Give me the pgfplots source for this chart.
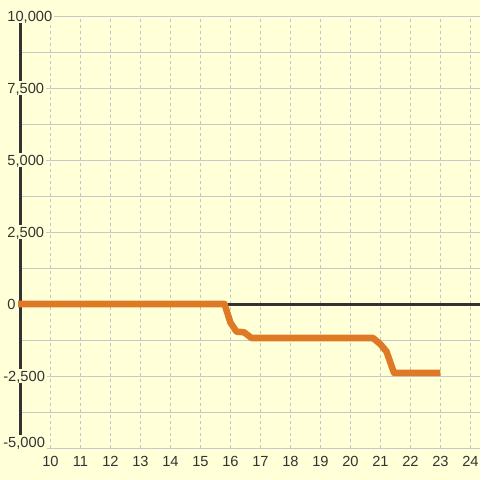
\documentclass[border=0pt]{standalone}
\usepackage{fontspec}
\setmainfont{Liberation Sans}
\usepackage{pgfplots}
\pgfplotsset{compat=1.18}
\definecolor{bgcol}{HTML}{FFFFD8}
\definecolor{gridcol}{HTML}{C8C8C8}
\definecolor{dotcol}{HTML}{C4C4C4}
\definecolor{axcol}{HTML}{333333}
\definecolor{linecol}{HTML}{DE7A25}
\begin{document}
\begin{tikzpicture}
\fill[bgcol] (-15.375pt,-24pt) rectangle (344.625pt,336pt);
\begin{axis}[
  at={(0,0)}, anchor=south west,
  scale only axis, width=344.625pt, height=324pt,
  xmin=9, xmax=24.3167, ymin=-5000, ymax=10000,
  clip=false,
  scaled ticks=false,
  axis line style={draw=none},
  major tick length=0pt,
  xtick={10,...,24},
  ytick={-5000,-3750,...,10000},
  yticklabels={},
  xmajorgrids, ymajorgrids,
  major x grid style={dotcol, line width=0.75pt, dash pattern=on 2.25pt off 2.25pt},
  major y grid style={gridcol, line width=0.75pt},
  /pgf/number format/assume math mode=true,
  xticklabel style={font=\fontsize{11}{13}\selectfont, text=axcol, anchor=center,
    text height=7.8pt, text depth=0pt, yshift=-9.75pt},
]
\draw[axcol, line width=2.25pt] (axis cs:9,-5000) -- (axis cs:9,10000);
\draw[axcol, line width=2.25pt] (axis cs:9,0) -- (axis cs:24.3167,0);
\addplot[linecol, line width=4.9pt, line join=round] coordinates {
  (8.92,0) (10,0) (11,0) (12,0) (13,0) (14,0) (15,0) (15.8,0)
  (16.0,-650) (16.2,-960) (16.45,-980) (16.7,-1180)
  (17,-1180) (18,-1180) (19,-1180) (20,-1180) (20.75,-1180)
  (21.0,-1400) (21.2,-1650) (21.45,-2390) (22,-2390) (23.0,-2390)
};
\tikzset{ylab/.style={anchor=west, fill=bgcol, text=axcol, font=\fontsize{11}{13}\selectfont,
  text height=7.8pt, text depth=0pt, inner xsep=1.2pt, inner ysep=1.4pt}}
\node[ylab, xshift=-11.25pt] at (axis cs:9,10000) {10,000};
\node[ylab, xshift=-11.25pt] at (axis cs:9,7500) {7,500};
\node[ylab, xshift=-11.25pt] at (axis cs:9,5000) {5,000};
\node[ylab, xshift=-11.25pt] at (axis cs:9,2500) {2,500};
\node[ylab, xshift=-11.25pt] at (axis cs:9,0) {0};
\node[ylab, xshift=-14.25pt] at (axis cs:9,-2500) {-2,500};
\node[ylab, xshift=-14.25pt, yshift=4.5pt] at (axis cs:9,-5000) {-5,000};
\end{axis}
\pgfresetboundingbox
\path[use as bounding box] (-15.375pt,-24pt) rectangle (344.625pt,336pt);
\end{tikzpicture}
\end{document}
